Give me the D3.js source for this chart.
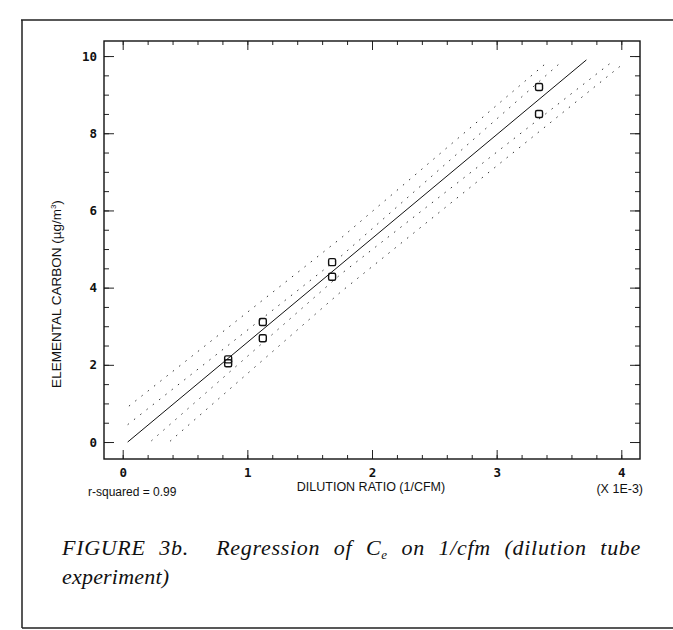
<!DOCTYPE html>
<html>
<head>
<meta charset="utf-8">
<script src="https://cdn.jsdelivr.net/npm/d3@7/dist/d3.min.js"></script>
<style>
  body { margin: 0; background: #fff; }
  .tick text { font-family: "DejaVu Sans Mono", monospace; font-weight: bold; font-size: 12.5px; fill: #111; }
  .lab { font-family: "Liberation Sans", Arial, sans-serif; fill: #111; }
  .cap { font-family: "Liberation Serif", "Times New Roman", serif; font-style: italic; font-size: 22px; fill: #111; white-space: pre; }
</style>
</head>
<body>
<div id="chart"></div>
<script>
// Measured points: dilution ratio (x 1E-3) vs elemental carbon (ug/m3)
const dilution = [0.846, 0.846, 1.124, 1.124, 1.68, 1.68, 3.34, 3.34];
const carbon = [2.14, 2.04, 3.11, 2.69, 4.66, 4.28, 9.2, 8.5];

// Regression line and the dotted bands
const fitX = [0.04, 3.72];
const fitY = [0.0, 9.9];
const upperOuterX = [0.05, 1.75, 3.42];
const upperOuterY = [0.93, 5.28, 9.88];
const upperInnerX = [0.04, 1.75, 3.52];
const upperInnerY = [0.45, 4.81, 9.85];
const lowerInnerX = [0.23, 1.75, 3.93];
const lowerInnerY = [0.03, 4.35, 9.86];
const lowerOuterX = [0.38, 1.75, 4.0];
const lowerOuterY = [0.02, 3.89, 9.76];

const xTicks = [0, 1, 2, 3, 4];
const yTicks = [0, 2, 4, 6, 8, 10];

const width = 673, height = 630;

const svg = d3.select("#chart")
    .append("svg")
    .attr("width", width)
    .attr("height", height);

// outer frame of the figure
svg.append("path")
    .attr("d", "M21,20 H673 M22,20 V628 M22,628 H673")
    .attr("stroke", "#222")
    .attr("stroke-width", 1.5)
    .attr("fill", "none");

const x = d3.scaleLinear().domain([-0.15, 4.15]).range([104, 640]);
const y = d3.scaleLinear().domain([-0.44, 10.39]).range([459, 41]);

const xMinor = d3.range(0, 4.01, 0.2);
const yMinor = d3.range(0, 10.01, 0.5);

// minor ticks on all four sides
svg.append("g").attr("transform", "translate(0,459)")
    .call(d3.axisBottom(x).tickValues(xMinor).tickSize(-4).tickFormat(""));
svg.append("g").attr("transform", "translate(0,41)")
    .call(d3.axisTop(x).tickValues(xMinor).tickSize(-4).tickFormat(""));
svg.append("g").attr("transform", "translate(104,0)")
    .call(d3.axisLeft(y).tickValues(yMinor).tickSize(-5).tickFormat(""));
svg.append("g").attr("transform", "translate(640,0)")
    .call(d3.axisRight(y).tickValues(yMinor).tickSize(-5).tickFormat(""));

// major ticks with labels
svg.append("g").attr("transform", "translate(0,459)")
    .call(d3.axisBottom(x).tickValues(xTicks).tickSize(-9).tickPadding(9).tickFormat(d3.format("d")));
svg.append("g").attr("transform", "translate(0,41)")
    .call(d3.axisTop(x).tickValues(xTicks).tickSize(-9).tickFormat(""));
svg.append("g").attr("transform", "translate(104,0)")
    .call(d3.axisLeft(y).tickValues(yTicks).tickSize(-10).tickPadding(7).tickFormat(d3.format("d")));
svg.append("g").attr("transform", "translate(640,0)")
    .call(d3.axisRight(y).tickValues(yTicks).tickSize(-10).tickFormat(""));

svg.selectAll(".domain").remove();
svg.selectAll(".tick line").attr("stroke", "#222").attr("stroke-width", 1);

// plot frame
svg.append("rect")
    .attr("x", 104).attr("y", 41)
    .attr("width", 536).attr("height", 418)
    .attr("fill", "none")
    .attr("stroke", "#111")
    .attr("stroke-width", 1.4);

const line = d3.line();

function band(xs, ys) {
    svg.append("path")
        .attr("d", line(xs.map((d, i) => [x(d), y(ys[i])])))
        .attr("fill", "none")
        .attr("stroke", "#333")
        .attr("stroke-width", 1)
        .attr("stroke-dasharray", "1.5,6.5");
}
band(upperOuterX, upperOuterY);
band(upperInnerX, upperInnerY);
band(lowerInnerX, lowerInnerY);
band(lowerOuterX, lowerOuterY);

// regression line
svg.append("path")
    .attr("d", line(fitX.map((d, i) => [x(d), y(fitY[i])])))
    .attr("fill", "none")
    .attr("stroke", "#111")
    .attr("stroke-width", 1);

// data points (open squares)
svg.selectAll(".pt")
    .data(dilution)
    .enter().append("rect")
    .attr("class", "pt")
    .attr("x", d => x(d) - 3.5)
    .attr("y", (d, i) => y(carbon[i]) - 3.5)
    .attr("width", 7)
    .attr("height", 7)
    .attr("rx", 1.5)
    .attr("fill", "none")
    .attr("stroke", "#111")
    .attr("stroke-width", 1.4);

// axis titles
svg.append("text")
    .attr("class", "lab")
    .attr("transform", "translate(61,294) rotate(-90)")
    .attr("text-anchor", "middle")
    .style("font-size", "13.5px")
    .html("ELEMENTAL CARBON (µg/m<tspan dy='-5' font-size='8px'>3</tspan><tspan dy='5'>)</tspan>");

svg.append("text")
    .attr("class", "lab")
    .attr("x", 371).attr("y", 491)
    .attr("text-anchor", "middle")
    .style("font-size", "12.5px")
    .text("DILUTION RATIO (1/CFM)");

svg.append("text")
    .attr("class", "lab")
    .attr("x", 643).attr("y", 493)
    .attr("text-anchor", "end")
    .style("font-size", "12.5px")
    .text("(X 1E-3)");

svg.append("text")
    .attr("class", "lab")
    .attr("x", 88).attr("y", 496)
    .style("font-size", "12px")
    .text("r-squared = 0.99");

// caption, first line justified to the plot's right edge
const cap = svg.append("text")
    .attr("class", "cap")
    .attr("x", 62).attr("y", 555)
    .style("letter-spacing", "0.7px");
cap.append("tspan").text("FIGURE 3b.  Regression of C");
cap.append("tspan").attr("dy", 4).style("font-size", "13px").text("e");
cap.append("tspan").attr("dy", -4).text(" on 1/cfm (dilution tube");

const target = 641 - 62;
const gaps = 9;
let ws = 0;
for (let k = 0; k < 3; k++) {
    const len = cap.node().getComputedTextLength();
    ws += (target - len) / gaps;
    cap.style("word-spacing", ws + "px");
}

svg.append("text")
    .attr("class", "cap")
    .attr("x", 62).attr("y", 584)
    .style("letter-spacing", "0.2px")
    .text("experiment)");
</script>
</body>
</html>
